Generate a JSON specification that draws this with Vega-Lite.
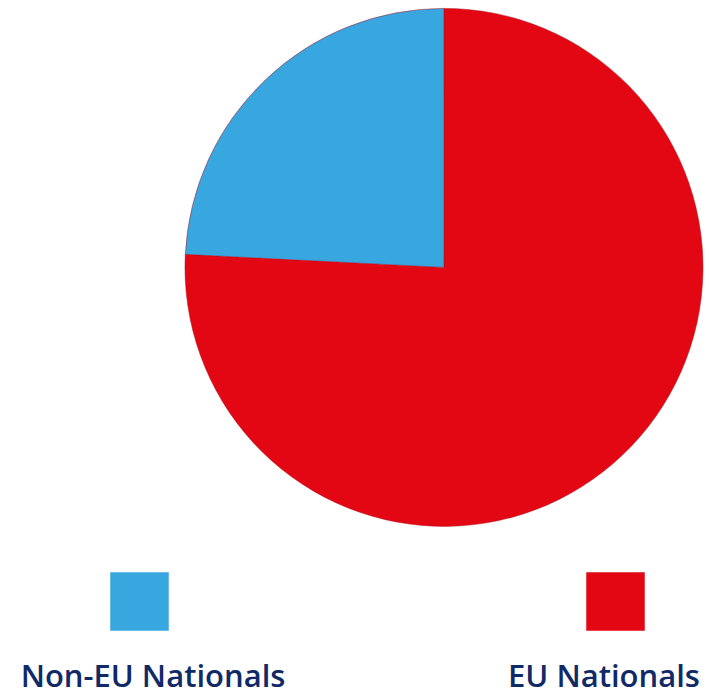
{
  "$schema": "https://vega.github.io/schema/vega-lite/v6.json",
  "width": 709,
  "height": 693,
  "autosize": {"type": "fit", "contains": "padding"},
  "padding": 0,
  "background": "white",
  "view": {"stroke": null},
  "data": {
    "values": [
      {"group": "EU Nationals", "share": 75.8, "order": 1},
      {"group": "Non-EU Nationals", "share": 24.2, "order": 2}
    ]
  },
  "layer": [
    {
      "mark": {"type": "arc", "outerRadius": 259, "x": {"expr": "width*0.6262"}, "y": {"expr": "height*0.3875"}, "stroke": "#b0101a", "strokeWidth": 0.5},
      "encoding": {
        "theta": {"field": "share", "type": "quantitative", "stack": true},
        "order": {"field": "order", "type": "quantitative"},
        "color": {"field": "group", "type": "nominal", "scale": {"domain": ["Non-EU Nationals", "EU Nationals"], "range": ["#38a6df", "#e30613"]}, "legend": null}
      }
    },
    {
      "mark": {"type": "square", "size": 3422, "opacity": 1, "y": {"expr": "height*0.8716"}},
      "encoding": {
        "x": {"field": "group", "type": "nominal", "scale": {"type": "point", "padding": 0, "domain": ["Non-EU Nationals", "EU Nationals"], "range": [139.5, 615.5]}, "axis": null},
        "color": {"field": "group", "type": "nominal", "legend": null}
      }
    },
    {
      "mark": {"type": "text", "font": "Open Sans", "fontWeight": 600, "fontSize": 31, "color": "#102a68", "baseline": "alphabetic", "align": "center", "y": {"expr": "height*0.9955"}},
      "encoding": {
        "x": {"field": "group", "type": "nominal", "scale": {"type": "point", "padding": 0, "domain": ["Non-EU Nationals", "EU Nationals"], "range": [153, 604]}, "axis": null},
        "text": {"field": "group", "type": "nominal"}
      }
    }
  ],
  "resolve": {"scale": {"x": "independent"}}
}
